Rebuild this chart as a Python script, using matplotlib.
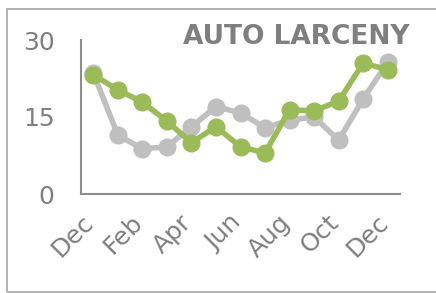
import matplotlib.pyplot as plt
import matplotlib.transforms as mtransforms
from matplotlib.patches import Rectangle

months = ['Dec', 'Jan', 'Feb', 'Mar', 'Apr', 'May', 'Jun',
          'Jul', 'Aug', 'Sep', 'Oct', 'Nov', 'Dec']
prev_year = [23.6, 11.5, 8.8, 9.2, 13.1, 17.0, 15.8, 12.9, 14.4, 15.0, 10.5, 18.5, 25.7]
this_year = [23.2, 20.3, 17.9, 14.2, 10.0, 13.1, 9.2, 8.0, 16.4, 16.2, 18.1, 25.5, 24.2]
yticks = [0, 15, 30]

GRAY = '#BFBFBF'
GREEN = '#9BBB59'
TEXT = '#7F7F7F'

plt.rcParams['font.family'] = ['DejaVu Sans']

W, H = 436, 293
fig = plt.figure(figsize=(W / 100, H / 100), dpi=100)

# outer frame of the chart
fig.patches.append(Rectangle((7 / W, 1 / H), 1.0, (292 - 9) / H, transform=fig.transFigure,
                             fill=False, edgecolor='#A6A6A6', linewidth=1.2))

ax = fig.add_axes([81 / W, 1 - 194 / H, (400 - 81) / W, (194 - 40) / H])
x = range(len(months))
ax.plot(x, prev_year, color=GRAY, lw=4, marker='o', ms=12, solid_capstyle='round', zorder=2)
ax.plot(x, this_year, color=GREEN, lw=4, marker='o', ms=12, solid_capstyle='round', zorder=3)

ax.set_xlim(-0.5, len(months) - 0.5)
ax.set_ylim(0, 30)
ax.set_yticks(yticks)
ax.set_yticklabels([str(v) for v in yticks], fontsize=18, color=TEXT)
ax.set_xticks(list(x)[::2])
ax.set_xticklabels(months[::2], rotation=45, ha='right', va='center', fontsize=18, color=TEXT,
                   rotation_mode='anchor')
ax.tick_params(length=0)
ax.tick_params(axis='y', pad=19)
ax.tick_params(axis='x', pad=18)
shift = mtransforms.ScaledTranslation(-3 / 100, 0, fig.dpi_scale_trans)
for lbl in ax.get_xticklabels():
    lbl.set_transform(lbl.get_transform() + shift)

for s in ('top', 'right'):
    ax.spines[s].set_visible(False)
for s in ('left', 'bottom'):
    ax.spines[s].set_color('#8C8C8C')
    ax.spines[s].set_linewidth(1.5)

fig.text(410 / W, 1 - 37.5 / H, 'AUTO LARCENY', ha='right', va='center', fontsize=19,
         fontweight='bold', color=TEXT)

fig.savefig('out.png', dpi=100)
